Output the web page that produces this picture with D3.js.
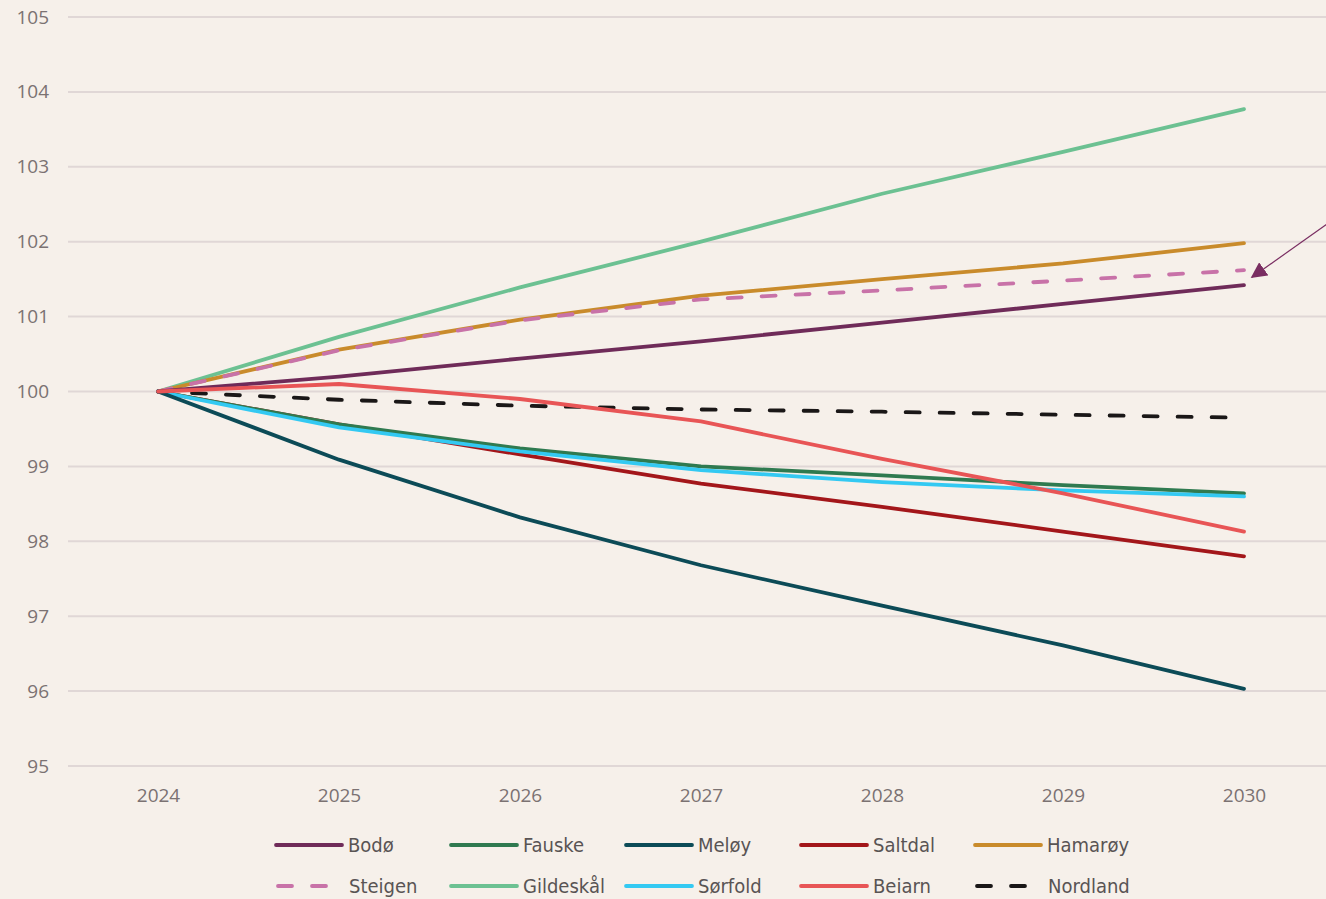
<!DOCTYPE html>
<html>
<head>
<meta charset="utf-8">
<script src="https://cdn.jsdelivr.net/npm/d3@7"></script>
<style>
  body { margin: 0; background: #f6f0ea; }
  svg { display: block; }
</style>
</head>
<body>
<svg id="chart" width="1326" height="899"></svg>
<script>
// årstall og verdier (indeks 2024 = 100)
const years = [2024, 2025, 2026, 2027, 2028, 2029, 2030];
const yTicks = [95, 96, 97, 98, 99, 100, 101, 102, 103, 104, 105];

const bodo      = [100, 100.20, 100.44, 100.67, 100.92, 101.17, 101.42];
const fauske    = [100, 99.56, 99.24, 99.00, 98.88, 98.75, 98.64];
const meloy     = [100, 99.09, 98.32, 97.68, 97.14, 96.61, 96.03];
const saltdal   = [100, 99.56, 99.16, 98.77, 98.46, 98.13, 97.80];
const hamaroy   = [100, 100.56, 100.96, 101.28, 101.50, 101.71, 101.98];
const steigen   = [100, 100.55, 100.95, 101.23, 101.35, 101.48, 101.62];
const gildeskal = [100, 100.73, 101.39, 102.00, 102.64, 103.20, 103.77];
const sorfold   = [100, 99.52, 99.20, 98.95, 98.79, 98.68, 98.60];
const beiarn    = [100, 100.10, 99.90, 99.60, 99.10, 98.64, 98.13];
const nordland  = [100, 99.89, 99.81, 99.76, 99.73, 99.69, 99.65];

const series = [
  { name: "Bodø",      values: bodo,      color: "#6f2b59", dash: false },
  { name: "Fauske",    values: fauske,    color: "#2f7a50", dash: false },
  { name: "Meløy",     values: meloy,     color: "#0c4b57", dash: false },
  { name: "Saltdal",   values: saltdal,   color: "#a3161a", dash: false },
  { name: "Hamarøy",   values: hamaroy,   color: "#c98b2b", dash: false },
  { name: "Steigen",   values: steigen,   color: "#c872a8", dash: true },
  { name: "Gildeskål", values: gildeskal, color: "#6cc192", dash: false },
  { name: "Sørfold",   values: sorfold,   color: "#33c9f2", dash: false },
  { name: "Beiarn",    values: beiarn,    color: "#e85556", dash: false },
  { name: "Nordland",  values: nordland,  color: "#1a1717", dash: true }
];

// tegnerekkefølge (bakerst først)
const drawOrder = ["Nordland", "Gildeskål", "Hamarøy", "Steigen", "Bodø", "Saltdal", "Fauske", "Sørfold", "Meløy", "Beiarn"];

const svg = d3.select("#chart");
const tickFont = "'Open Sans', 'DejaVu Sans', sans-serif";
const legendFont = "'Liberation Sans Narrow', 'DejaVu Sans Condensed', 'Roboto', sans-serif";

const x = d3.scalePoint().domain(years).range([158, 1244]);
const y = d3.scaleLinear().domain([95, 105]).range([766, 17]);

// rutenett
svg.append("g").selectAll("line")
  .data(yTicks).join("line")
  .attr("x1", 68).attr("x2", 1326)
  .attr("y1", d => y(d)).attr("y2", d => y(d))
  .attr("stroke", "#e0d7d6").attr("stroke-width", 2);

// y-akse
const yAxis = svg.append("g")
  .attr("transform", "translate(49,0)")
  .call(d3.axisLeft(y).tickValues(yTicks).tickSize(0).tickPadding(0));
yAxis.select(".domain").remove();
yAxis.selectAll("text")
  .attr("font-family", tickFont).attr("font-size", 19).attr("fill", "#7b7272");

// x-akse
const xAxis = svg.append("g")
  .attr("transform", "translate(0,788)")
  .call(d3.axisBottom(x).tickSize(0).tickPadding(0).tickFormat(d3.format("d")));
xAxis.select(".domain").remove();
xAxis.selectAll("text")
  .attr("font-family", tickFont).attr("font-size", 19).attr("fill", "#7b7272");

const line = d3.line()
  .x((d, i) => x(years[i]))
  .y(d => y(d));

const byName = new Map(series.map(s => [s.name, s]));

svg.append("g").selectAll("path")
  .data(drawOrder.map(n => byName.get(n))).join("path")
  .attr("d", d => line(d.values))
  .attr("fill", "none")
  .attr("stroke", d => d.color)
  .attr("stroke-width", 3.8)
  .attr("stroke-linecap", "round")
  .attr("stroke-linejoin", "round")
  .attr("stroke-dasharray", d => d.dash ? "14 20" : null);

// pil mot Steigen
svg.append("defs").append("marker")
  .attr("id", "arrow")
  .attr("viewBox", "0 0 10 10")
  .attr("refX", 9).attr("refY", 5)
  .attr("markerWidth", 16).attr("markerHeight", 16)
  .attr("markerUnits", "userSpaceOnUse")
  .attr("orient", "auto")
  .append("path")
  .attr("d", "M0,0 L10,5 L0,10 z")
  .attr("fill", "#7a2e62");

svg.append("line")
  .attr("x1", 1330).attr("y1", 222)
  .attr("x2", x(2030) + 8).attr("y2", y(steigen[6]) + 7)
  .attr("stroke", "#7a2e62").attr("stroke-width", 1.2)
  .attr("marker-end", "url(#arrow)");

// legende
const legendX = [276, 451, 626, 801, 975];
const legendY = [845, 886];

const leg = svg.append("g").selectAll("g")
  .data(series).join("g")
  .attr("transform", (d, i) => `translate(${legendX[i % 5]},${legendY[Math.floor(i / 5)]})`);

leg.append("line")
  .attr("x1", d => d.dash ? 2 : 0).attr("x2", d => d.dash ? 50 : 66)
  .attr("y1", 0).attr("y2", 0)
  .attr("stroke", d => d.color)
  .attr("stroke-width", 3.8)
  .attr("stroke-linecap", "round")
  .attr("stroke-dasharray", d => d.dash ? "14 20" : null);

leg.append("text")
  .attr("x", d => d.dash ? 73 : 72)
  .attr("y", 0)
  .attr("dy", "0.35em")
  .attr("font-family", legendFont)
  .attr("font-size", 20)
  .attr("fill", "#595454")
  .text(d => d.name);
</script>
</body>
</html>
